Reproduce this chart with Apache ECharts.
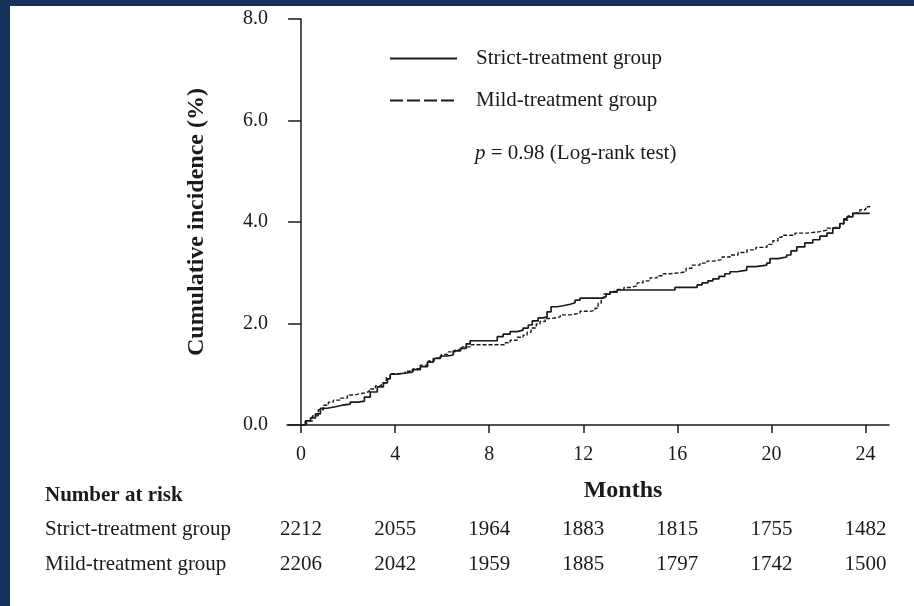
<!DOCTYPE html>
<html>
<head>
<meta charset="utf-8">
<title>Cumulative incidence</title>
<script src="https://cdn.jsdelivr.net/npm/echarts@6.0.0/dist/echarts.min.js"></script>
<style>
html, body { margin:0; padding:0; width:914px; height:606px; background:#16325c; overflow:hidden; }
#chart { position:absolute; left:10px; top:6px; width:904px; height:600px; background:#fff; }
</style>
</head>
<body>
<div id="chart"></div>
<script>
// 曲线数据 (月, 累计发生率%) 从图上读出
var strictMonths = [0, 0.18, 0.40, 0.61, 0.82, 1.12, 1.46, 1.75, 2.09, 2.43, 2.69, 2.94, 3.24, 3.50, 3.67,
	3.79, 4.05, 4.39, 4.73, 5.07, 5.37, 5.62, 5.92, 6.21, 6.47, 6.77, 7.02, 7.19, 8.34, 8.59,
	8.89, 9.19, 9.44, 9.66, 9.83, 10.08, 10.29, 10.46, 10.63, 10.89, 11.14, 11.44, 11.65, 11.86, 12.80,
	12.97, 13.14, 13.44, 15.90, 16.84, 17.05, 17.30, 17.51, 17.77, 18.02, 18.24, 18.53, 18.95, 19.34, 19.80,
	19.94, 20.28, 20.65, 20.83, 21.08, 21.42, 21.76, 22.06, 22.36, 22.61, 22.91, 23.08, 23.21, 23.46, 24.18];
var strictIncidence = [0, 0.08, 0.14, 0.22, 0.33, 0.36, 0.39, 0.41, 0.45, 0.47, 0.55, 0.65, 0.75, 0.83, 0.91,
	1.00, 1.02, 1.04, 1.09, 1.15, 1.24, 1.31, 1.36, 1.38, 1.46, 1.51, 1.60, 1.66, 1.74, 1.79,
	1.84, 1.87, 1.91, 1.97, 2.05, 2.11, 2.13, 2.23, 2.33, 2.35, 2.38, 2.41, 2.46, 2.50, 2.53,
	2.58, 2.62, 2.66, 2.71, 2.76, 2.80, 2.84, 2.88, 2.93, 2.98, 3.02, 3.05, 3.12, 3.15, 3.19,
	3.28, 3.31, 3.35, 3.43, 3.51, 3.59, 3.65, 3.72, 3.78, 3.88, 3.97, 4.06, 4.10, 4.17, 4.17];

var mildMonths = [0, 0.23, 0.48, 0.73, 0.95, 1.16, 1.37, 1.67, 1.97, 2.26, 2.52, 2.69, 2.90, 3.16, 3.41,
	3.62, 3.79, 4.13, 4.43, 4.77, 5.07, 5.41, 5.66, 5.96, 6.26, 6.55, 6.85, 7.19, 8.68, 8.89,
	9.19, 9.44, 9.61, 9.78, 10.00, 10.16, 10.38, 10.68, 11.02, 11.44, 11.86, 12.29, 12.50, 12.63, 12.76,
	12.88, 13.14, 13.44, 13.73, 13.99, 14.29, 14.54, 14.84, 15.14, 15.40, 15.69, 16.12, 16.37, 16.62, 16.96,
	17.26, 17.56, 17.90, 18.24, 18.58, 18.96, 19.34, 19.81, 20.06, 20.28, 20.45, 21.00, 21.51, 22.06, 22.36,
	22.61, 22.91, 23.08, 23.25, 23.46, 23.76, 24.01, 24.18];
var mildIncidence = [0, 0.08, 0.18, 0.30, 0.39, 0.45, 0.49, 0.53, 0.59, 0.62, 0.63, 0.66, 0.71, 0.77, 0.83,
	0.93, 1.01, 1.02, 1.06, 1.11, 1.18, 1.26, 1.32, 1.39, 1.44, 1.48, 1.54, 1.58, 1.62, 1.67,
	1.73, 1.77, 1.83, 1.91, 1.99, 2.04, 2.10, 2.13, 2.17, 2.20, 2.24, 2.26, 2.30, 2.40, 2.50,
	2.58, 2.63, 2.67, 2.71, 2.74, 2.80, 2.84, 2.90, 2.94, 2.98, 3.00, 3.02, 3.09, 3.15, 3.19,
	3.23, 3.26, 3.31, 3.35, 3.40, 3.45, 3.50, 3.56, 3.63, 3.70, 3.74, 3.78, 3.81, 3.84, 3.88,
	3.91, 3.96, 4.04, 4.12, 4.18, 4.24, 4.30, 4.32];

// 风险人数表
var groups = ['Strict-treatment group', 'Mild-treatment group'];
var riskMonths = [0, 4, 8, 12, 16, 20, 24];
var strictAtRisk = [2212, 2055, 1964, 1883, 1815, 1755, 1482];
var mildAtRisk = [2206, 2042, 1959, 1885, 1797, 1742, 1500];

var serif = "'Liberation Serif', 'Times New Roman', serif";
var ink = '#1a1a1a';

function pairs(xs, ys) {
	var out = [];
	for (var i = 0; i < xs.length; i++) {
		out.push([xs[i], ys[i]]);
	}
	return out;
}

//表格数字用散点的标签画出来
var riskData = [];
for (var j = 0; j < riskMonths.length; j++) {
	riskData.push([riskMonths[j], groups[0], strictAtRisk[j]]);
	riskData.push([riskMonths[j], groups[1], mildAtRisk[j]]);
}

var myChart = echarts.init(document.getElementById('chart'));

var option = {
	animation: false,
	title: [{
		text: 'Number at risk',
		left: 30,
		top: 474,
		textStyle: { fontFamily: serif, fontSize: 21, fontWeight: 'bold', color: ink }
	}, {
		text: '{i|p} = 0.98 (Log-rank test)',
		left: 460,
		top: 132,
		textStyle: {
			fontFamily: serif, fontSize: 21, fontWeight: 'normal', color: ink,
			rich: { i: { fontFamily: serif, fontSize: 21, fontStyle: 'italic', color: ink } }
		}
	}],
	legend: {
		orient: 'vertical',
		left: 374,
		top: 37,
		itemWidth: 67,
		itemHeight: 14,
		itemGap: 21,
		selectedMode: false,
		//图例只画线, 不画圆点
		itemStyle: { color: 'transparent', borderColor: 'transparent', borderWidth: 0 },
		textStyle: { fontFamily: serif, fontSize: 21, color: ink, padding: [0, 0, 0, 14] },
		data: [
			{ name: groups[0] },
			{ name: groups[1], lineStyle: { type: [13, 4] } }
		]
	},
	grid: [
		{ left: 277, right: 25, top: 13, bottom: 181 },
		{ left: 277, right: 25, top: 506, height: 70 }
	],
	xAxis: [{
		type: 'value',
		gridIndex: 0,
		min: -0.6,
		max: 25,
		name: 'Months',
		nameLocation: 'middle',
		nameGap: 54,
		nameTextStyle: { fontFamily: serif, fontSize: 24, fontWeight: 'bold', color: ink, padding: [0, 0, 0, 70] },
		splitLine: { show: false },
		axisLine: { onZero: false, lineStyle: { color: ink, width: 1.5 } },
		axisTick: { customValues: riskMonths, length: 8, lineStyle: { color: ink, width: 1.5 } },
		axisLabel: { customValues: riskMonths, margin: 20, fontFamily: serif, fontSize: 20, color: ink }
	}, {
		type: 'value',
		gridIndex: 1,
		min: -0.6,
		max: 25,
		show: false
	}],
	yAxis: [{
		type: 'value',
		gridIndex: 0,
		min: 0,
		max: 8,
		interval: 2,
		name: 'Cumulative incidence (%)',
		nameLocation: 'middle',
		nameGap: 78,
		nameTextStyle: { fontFamily: serif, fontSize: 24, fontWeight: 'bold', color: ink },
		splitLine: { show: false },
		axisLine: { show: true, onZero: true, lineStyle: { color: ink, width: 1.5 } },
		axisTick: { show: true, length: 13, lineStyle: { color: ink, width: 1.5 } },
		axisLabel: {
			margin: 19, fontFamily: serif, fontSize: 20, color: ink,
			formatter: function(v) { return v.toFixed(1); }
		}
	}, {
		type: 'category',
		gridIndex: 1,
		inverse: true,
		data: groups,
		axisLine: { show: false, onZero: false },
		axisTick: { show: false },
		axisLabel: { align: 'left', margin: 242, fontFamily: serif, fontSize: 21, color: ink }
	}],
	series: [{
		name: groups[0],
		type: 'line',
		step: 'end',
		symbol: 'none',
		showSymbol: false,
		data: pairs(strictMonths, strictIncidence),
		itemStyle: { color: ink },
		lineStyle: { color: ink, width: 1.7, type: 'solid' }
	}, {
		name: groups[1],
		type: 'line',
		step: 'end',
		symbol: 'none',
		showSymbol: false,
		data: pairs(mildMonths, mildIncidence),
		itemStyle: { color: ink },
		lineStyle: { color: ink, width: 1.4, type: [4, 2] }
	}, {
		name: 'at risk',
		type: 'scatter',
		xAxisIndex: 1,
		yAxisIndex: 1,
		symbolSize: 1,
		silent: true,
		itemStyle: { color: 'transparent', opacity: 1 },
		data: riskData,
		label: {
			show: true,
			position: 'inside',
			opacity: 1,
			fontFamily: serif,
			fontSize: 21,
			color: ink,
			formatter: function(p) { return p.value[2]; }
		}
	}]
};

myChart.setOption(option);
</script>
</body>
</html>
